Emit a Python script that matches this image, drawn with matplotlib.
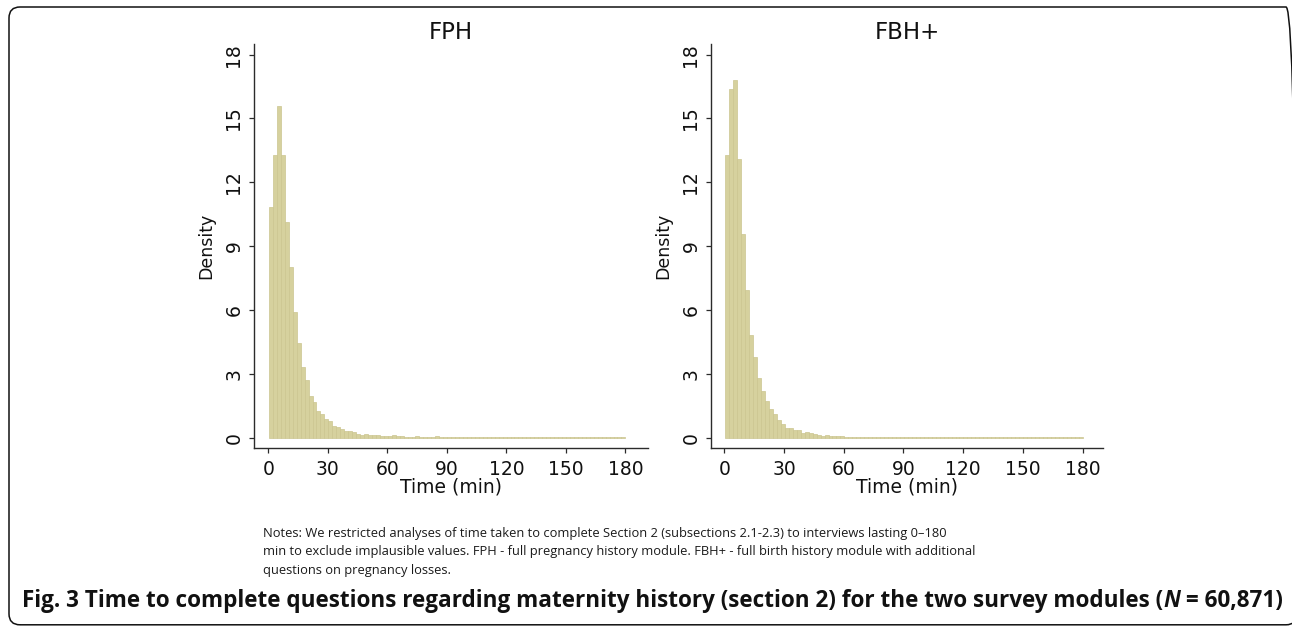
import matplotlib
matplotlib.use("Agg")
import matplotlib.pyplot as plt
from matplotlib.patches import FancyBboxPatch

# ---------------- data ----------------
panel_titles = ["FPH", "FBH+"]
x_ticks = [0, 30, 60, 90, 120, 150, 180]
y_ticks = [0, 3, 6, 9, 12, 15, 18]
x_label = "Time (min)"
y_label = "Density"

# first bin edge (minutes) and last edge of each histogram
fph_first_edge = 0.33
fbh_first_edge = 0.5
last_edge = 180

# bar heights (density), 90 bins each
fph_density = [
    10.83, 13.30, 15.60, 13.30, 10.14, 8.02, 5.92, 4.44, 3.31, 2.70,
    1.95, 1.68, 1.24, 1.11, 0.85, 0.77, 0.53, 0.49, 0.39, 0.31,
    0.30, 0.25, 0.16, 0.11, 0.16, 0.13, 0.13, 0.11, 0.06, 0.06,
    0.06, 0.11, 0.06, 0.09, 0.03, 0.03, 0.03, 0.06, 0.03, 0.03,
    0.03, 0.03, 0.06, 0.03, 0.03, 0.03, 0.03, 0.03, 0.03, 0.03,
    0.03, 0.03, 0.03, 0.03, 0.03, 0.03, 0.03, 0.03, 0.03, 0.03,
    0.03, 0.03, 0.03, 0.03, 0.03, 0.03, 0.03, 0.03, 0.03, 0.03,
    0.03, 0.03, 0.03, 0.03, 0.03, 0.03, 0.03, 0.03, 0.03, 0.03,
    0.03, 0.03, 0.03, 0.03, 0.03, 0.03, 0.03, 0.03, 0.03, 0.03,
]
fbh_density = [
    13.28, 16.40, 16.81, 13.08, 9.59, 6.92, 4.84, 3.81, 2.81, 2.18,
    1.74, 1.35, 1.13, 0.81, 0.62, 0.46, 0.43, 0.35, 0.35, 0.22,
    0.24, 0.20, 0.19, 0.11, 0.09, 0.10, 0.06, 0.06, 0.06, 0.06,
    0.03, 0.03, 0.03, 0.03, 0.03, 0.03, 0.03, 0.03, 0.03, 0.03,
    0.03, 0.03, 0.03, 0.03, 0.03, 0.03, 0.03, 0.03, 0.03, 0.03,
    0.03, 0.03, 0.03, 0.03, 0.03, 0.03, 0.03, 0.03, 0.03, 0.03,
    0.03, 0.03, 0.03, 0.03, 0.03, 0.03, 0.03, 0.03, 0.03, 0.03,
    0.03, 0.03, 0.03, 0.03, 0.03, 0.03, 0.03, 0.03, 0.03, 0.03,
    0.03, 0.03, 0.03, 0.03, 0.03, 0.03, 0.03, 0.03, 0.03, 0.03,
]

notes_lines = [
    "Notes: We restricted analyses of time taken to complete Section 2 (subsections 2.1-2.3) to interviews lasting 0\u2013180",
    "min to exclude implausible values. FPH - full pregnancy history module. FBH+ - full birth history module with additional",
    "questions on pregnancy losses.",
]
caption_parts = [
    ("Fig. 3 Time to complete questions regarding maternity history (section 2) for the two survey modules (", "normal"),
    ("N", "italic"),
    (" = 60,871)", "normal"),
]

# ---------------- layout ----------------
W, H = 1292, 626
fig = plt.figure(figsize=(W / 100, H / 100), dpi=100)
fig.patch.set_facecolor("white")
plt.rcParams["font.family"] = ["DejaVu Sans"]


def px_rect(l, t, r, b):
    return [l / W, 1 - b / H, (r - l) / W, (b - t) / H]


bar_face = "#d6d19e"
bar_edge = "#cbc590"
axis_col = "#2b2b2b"

panels = [
    (panel_titles[0], fph_density, fph_first_edge, (254, 44, 648, 448), (-7.2, 191.4)),
    (panel_titles[1], fbh_density, fbh_first_edge, (711, 44, 1103, 448), (-6.7, 190.3)),
]

for title, dens, first, rect, xlim in panels:
    ax = fig.add_axes(px_rect(*rect))
    n = len(dens)
    bw = (last_edge - first) / n
    lefts = [first + i * bw for i in range(n)]
    ax.bar(lefts, dens, width=bw, align="edge", color=bar_face,
           edgecolor=bar_edge, linewidth=0.5)
    ax.set_xlim(*xlim)
    ax.set_ylim(-0.49, 18.5)
    ax.set_xticks(x_ticks)
    ax.set_yticks(y_ticks)
    for s in ("top", "right"):
        ax.spines[s].set_visible(False)
    for s in ("left", "bottom"):
        ax.spines[s].set_color(axis_col)
        ax.spines[s].set_linewidth(1.0)
    ax.tick_params(axis="both", direction="out", length=3.6, width=0.9,
                   color=axis_col, labelsize=13.5, labelcolor="#111111")
    ax.tick_params(axis="x", pad=5.0)
    ax.tick_params(axis="y", pad=4.0)
    for lbl in ax.get_yticklabels():
        lbl.set_rotation(90)
        lbl.set_va("center")
        lbl.set_ha("right")
    ax.set_title(title, fontsize=16.5, pad=2, color="#111111")
    ax.set_xlabel(x_label, fontsize=13.5, color="#111111")
    ax.xaxis.set_label_coords(0.5, -0.072)
    ax.set_ylabel(y_label, fontsize=12.5, color="#111111")
    ax.yaxis.set_label_coords(-0.098, 0.5)

# ---------------- notes and caption ----------------
renderer = fig.canvas.get_renderer()
note_font = "Open Sans"

# notes: fit first line to its width in the reference
tmp = fig.text(0, 0, notes_lines[0], fontsize=10, family=note_font)
w0 = tmp.get_window_extent(renderer).width
tmp.remove()
note_size = 10 * 678 / w0
note_baselines = [537, 555.5, 574]
for line, yb in zip(notes_lines, note_baselines):
    fig.text(263 / W, 1 - yb / H, line, fontsize=note_size, family=note_font,
             va="baseline", ha="left", color="#1a1a1a")

# caption (bold, N italic) fitted to reference width
texts = []
for s, style in caption_parts:
    texts.append(fig.text(0, 0, s, fontsize=12, family=note_font,
                          fontweight="bold", fontstyle=style, va="baseline"))
total = sum(t.get_window_extent(renderer).width for t in texts)
cap_size = 12 * 1260 / total
for t in texts:
    t.set_fontsize(cap_size)
x = 22.0
for t in texts:
    t.set_position((x / W, 1 - 607 / H))
    x += t.get_window_extent(renderer).width
    t.set_color("#111111")

# rounded frame around the figure panel (right edge just past the image border)
frame = FancyBboxPatch((9 / 100, 1.2 / 100), (1297 - 9) / 100, (624.8 - 7) / 100,
                       boxstyle="round,pad=0,rounding_size=0.11",
                       transform=fig.dpi_scale_trans, fill=False,
                       edgecolor="#111111", linewidth=1.1, clip_on=False)
fig.patches.append(frame)

fig.savefig("out.png", dpi=100)
